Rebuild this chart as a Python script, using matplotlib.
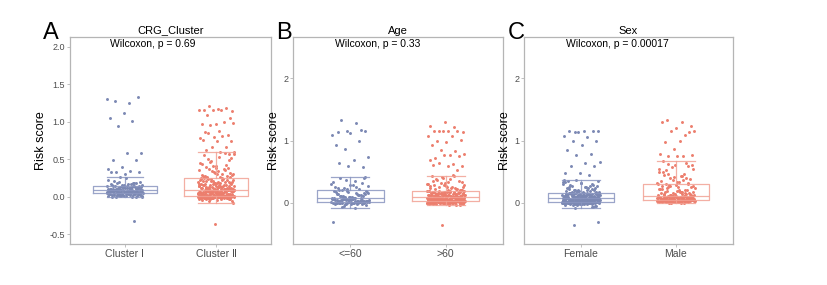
import numpy as np
import matplotlib
matplotlib.use("Agg")
import matplotlib.pyplot as plt

plt.rcParams['font.family'] = ['Liberation Sans', 'DejaVu Sans']

# ---------------- data (risk scores) ----------------
cluster1_risk = [
    1.30, 1.25, 1.28, 1.33, 1.12, 1.05, 1.01, 0.94, 0.58, 0.58, 0.49, 0.49, 0.40, 0.37, 0.35, 0.33, 0.33, 0.31, 0.33, -0.32,
    0.012, -0.004, 0.031, 0.045, 0.008, 0.022, 0.039, -0.009, 0.017, 0.028, 0.041, 0.003, 0.035, 0.014, 0.048, 0.025, -0.002,
    0.033, 0.006, 0.043, 0.019, 0.037, 0.011, 0.046, 0.027, 0.001, 0.032, 0.015, 0.049, 0.021, 0.040, 0.009, 0.024, 0.044, 0.030,
    0.052, 0.071, 0.085, 0.063, 0.058, 0.079, 0.088, 0.066, 0.054, 0.075, 0.082, 0.061, 0.069, 0.057, 0.086, 0.073, 0.051, 0.064,
    0.080, 0.077, 0.059, 0.068, 0.083, 0.055, 0.072, 0.087, 0.062, 0.070, 0.053, 0.081, 0.065, 0.076, 0.060, 0.084, 0.067, 0.074,
    0.092, 0.118, 0.135, 0.104, 0.147, 0.097, 0.126, 0.111, 0.141, 0.099, 0.131, 0.108, 0.122, 0.094, 0.145, 0.115, 0.102, 0.138,
    0.128, 0.096, 0.113, 0.149, 0.106, 0.124, 0.091, 0.133, 0.119, 0.101, 0.143, 0.109, 0.127, 0.095, 0.137, 0.116, 0.103, 0.129,
    0.155, 0.168, 0.182, 0.195, 0.161, 0.174, 0.209, 0.188, 0.152, 0.221, 0.165, 0.178, 0.198, 0.245, 0.158, 0.186, 0.268,
]
cluster2_risk = [
    1.21, 1.14, 1.17, 1.16, 1.18, 1.15, 1.15, 1.15, 1.09, 1.05, 0.97, 0.97, 1.00, 0.96, 0.98, 0.88, 0.87, 0.83, 0.80, 0.79,
    0.81, 0.85, 0.74, 0.74, 0.76, 0.67, 0.67, 0.60, 0.60, 0.63, 0.57, -0.36,
    -0.012, 0.004, -0.031, 0.008, -0.005, 0.002, -0.018, 0.006, -0.024, 0.000, -0.009, 0.009, -0.002, -0.041, 0.005, -0.015, 0.003, -0.007, -0.027, 0.007,
    -0.001, -0.011, 0.001, -0.056, 0.008, -0.004, -0.020, 0.006, -0.013, 0.002, -0.034, 0.004, -0.008, 0.009, -0.003, -0.017, 0.000, -0.079, 0.005, -0.010,
    -0.022, 0.003, -0.006, 0.007, -0.014, 0.001, -0.045, 0.008, -0.002, -0.019, 0.006, -0.009, 0.004, -0.028, 0.002, -0.005, 0.009, -0.012, -0.063, 0.003,
    -0.001, 0.007, -0.016, 0.005, -0.007, 0.000, -0.025, 0.008, -0.003,
    0.012, 0.045, 0.078, 0.023, 0.061, 0.034, 0.089, 0.017, 0.052, 0.068, 0.029, 0.083, 0.041, 0.015, 0.072, 0.056, 0.037, 0.087, 0.020, 0.064,
    0.048, 0.011, 0.075, 0.031, 0.059, 0.085, 0.026, 0.043, 0.069, 0.014, 0.080, 0.038, 0.054, 0.019, 0.073, 0.047, 0.088, 0.024, 0.062, 0.033,
    0.016, 0.070, 0.050, 0.028, 0.082, 0.040, 0.013, 0.066, 0.057, 0.035, 0.077, 0.021, 0.086, 0.046, 0.030, 0.063, 0.018, 0.074, 0.053, 0.039,
    0.084, 0.025, 0.067, 0.044, 0.011, 0.079, 0.032, 0.058, 0.022, 0.071,
    0.095, 0.142, 0.208, 0.118, 0.176, 0.231, 0.103, 0.157, 0.194, 0.126, 0.245, 0.111, 0.168, 0.137, 0.219, 0.099, 0.185, 0.149, 0.121, 0.202,
    0.238, 0.108, 0.163, 0.131, 0.091, 0.189, 0.226, 0.145, 0.115, 0.172, 0.098, 0.213, 0.153, 0.124, 0.197, 0.106, 0.248, 0.139, 0.181, 0.117,
    0.160, 0.093, 0.222, 0.134, 0.171, 0.102, 0.205, 0.147, 0.128, 0.236, 0.112, 0.186, 0.155, 0.097, 0.216, 0.141, 0.178, 0.120, 0.199, 0.109,
    0.166, 0.243, 0.133, 0.092, 0.191, 0.151, 0.229, 0.113, 0.174, 0.136,
    0.262, 0.318, 0.405, 0.287, 0.351, 0.472, 0.298, 0.536, 0.274, 0.389, 0.331, 0.447, 0.256, 0.365, 0.518, 0.309, 0.281, 0.423, 0.342, 0.571,
    0.267, 0.396, 0.489, 0.322, 0.253, 0.375, 0.458, 0.294, 0.338, 0.552, 0.271, 0.412, 0.359, 0.303, 0.498, 0.259, 0.382, 0.436, 0.578,
]
age_le60_risk = [
    1.14, 1.17, 1.16, 1.09, 1.28, 1.33, 1.16, 1.12, 0.93, 0.99, 0.87, 0.73, 0.69, 0.64, 0.57, 0.59, -0.31,
    -0.012, 0.004, -0.035, 0.010, -0.003, 0.013, -0.021, 0.007, -0.088, 0.001, -0.008, 0.012, -0.016, 0.005, -0.047, 0.009,
    -0.002, 0.014, -0.026, 0.003, -0.006, 0.011, -0.062, 0.006, -0.011, 0.002, 0.015, -0.019, 0.008, -0.004, 0.000,
    0.018, 0.042, 0.063, 0.027, 0.055, 0.034, 0.069, 0.021, 0.048, 0.038, 0.060, 0.024, 0.051, 0.030, 0.066, 0.045,
    0.019, 0.057, 0.036, 0.062, 0.026, 0.049, 0.040, 0.068, 0.032, 0.053, 0.022, 0.059, 0.044, 0.029, 0.065, 0.047,
    0.074, 0.112, 0.158, 0.089, 0.187, 0.131, 0.097, 0.176, 0.082, 0.143, 0.119, 0.195, 0.078, 0.165, 0.104, 0.138,
    0.086, 0.182, 0.125, 0.093, 0.151, 0.072, 0.199, 0.109, 0.169, 0.081, 0.135, 0.116, 0.190, 0.099, 0.147, 0.077,
    0.37, 0.30, 0.35, 0.40, 0.40, 0.29, 0.25, 0.215, 0.232, 0.268, 0.281, 0.246, 0.312, 0.225, 0.342, 0.259, 0.205, 0.42,
]
age_gt60_risk = [
    1.29, 1.24, 1.21, 1.16, 1.13, 1.15, 1.15, 1.15, 1.15, 1.07, 1.07, 0.99, 1.01, 0.97, 0.92, 0.83, 0.84, 0.79, 0.77, 0.72,
    0.75, 0.76, 0.69, 0.63, 0.64, 0.59, 0.59, 0.60, 0.52, -0.35,
    -0.008, 0.012, 0.025, -0.015, 0.004, 0.019, 0.028, -0.002, 0.009, -0.031, 0.016, 0.022, 0.001, -0.011, 0.027, 0.007, 0.014, -0.005, 0.020, -0.038,
    0.011, 0.029, 0.003, -0.019, 0.017, 0.024, -0.001, 0.008, 0.013, -0.025, 0.021, 0.005, 0.026, -0.009, 0.015, 0.002, 0.023, -0.013, 0.010, 0.018,
    -0.004, 0.028, 0.006, -0.022, 0.014, 0.024, 0.000, 0.019, -0.007, 0.011, 0.027, 0.003, -0.016, 0.021, 0.009, -0.003, 0.016, 0.025, -0.028, 0.012,
    0.002, 0.022, -0.010, 0.007,
    0.032, 0.058, 0.081, 0.041, 0.069, 0.036, 0.087, 0.051, 0.063, 0.045, 0.075, 0.033, 0.084, 0.055, 0.039, 0.071, 0.048, 0.066, 0.089, 0.043,
    0.061, 0.035, 0.078, 0.053, 0.046, 0.085, 0.038, 0.067, 0.057, 0.031, 0.074, 0.049, 0.082, 0.042, 0.064, 0.037, 0.079, 0.052, 0.070, 0.034,
    0.088, 0.047, 0.060, 0.040, 0.076, 0.054, 0.083, 0.044, 0.068, 0.031, 0.072, 0.056, 0.086, 0.039, 0.065, 0.050, 0.077, 0.036, 0.062, 0.046,
    0.080, 0.041, 0.073, 0.059, 0.034,
    0.093, 0.142, 0.118, 0.176, 0.105, 0.161, 0.131, 0.187, 0.097, 0.152, 0.124, 0.110, 0.169, 0.138, 0.091, 0.183, 0.115, 0.147, 0.102, 0.172,
    0.128, 0.157, 0.095, 0.136, 0.179, 0.108, 0.164, 0.121, 0.189, 0.099, 0.145, 0.113, 0.171, 0.133, 0.092, 0.155, 0.126, 0.185, 0.104, 0.167,
    0.140, 0.117, 0.174, 0.096, 0.150, 0.130, 0.181, 0.107, 0.159, 0.122, 0.094, 0.144, 0.178, 0.111, 0.163, 0.135, 0.101, 0.188, 0.119, 0.153,
    0.098, 0.173, 0.127, 0.149, 0.114,
    0.205, 0.262, 0.348, 0.228, 0.415, 0.297, 0.241, 0.376, 0.213, 0.321, 0.274, 0.432, 0.196, 0.255, 0.339, 0.287, 0.221, 0.398, 0.308, 0.247,
    0.362, 0.201, 0.268, 0.425, 0.233, 0.315, 0.279, 0.386, 0.218, 0.354, 0.292, 0.237, 0.441, 0.252, 0.331, 0.209,
]
female_risk = [
    1.14, 1.15, 1.16, 1.16, 1.16, 1.13, 1.07, 1.06, 1.00, 0.99, 0.93, 0.85, 0.78, 0.76, 0.65, 0.64, 0.59, 0.59, 0.48, 0.48, 0.44,
    -0.35, -0.31,
    -0.006, 0.008, -0.021, 0.012, 0.002, -0.013, 0.010, -0.044, 0.005, -0.002, 0.014, -0.017, 0.007, -0.009, 0.001, -0.072, 0.011, -0.004, 0.013, -0.028,
    0.006, -0.011, 0.003, 0.009, -0.035, 0.000, 0.015, -0.007, 0.004, -0.019, 0.012, -0.001, -0.088, 0.008, -0.014, 0.010, 0.002, -0.025, 0.006, -0.005,
    0.013, -0.052, 0.001, 0.009, -0.010, 0.004, -0.003, 0.011, -0.016, 0.007, 0.014, -0.031, 0.003, -0.008, 0.010, -0.002, 0.005, -0.061,
    0.018, 0.045, 0.072, 0.029, 0.061, 0.036, 0.079, 0.024, 0.053, 0.041, 0.067, 0.020, 0.057, 0.033, 0.075, 0.048, 0.016, 0.064, 0.038, 0.070,
    0.027, 0.050, 0.043, 0.077, 0.022, 0.059, 0.035, 0.068, 0.046, 0.019, 0.073, 0.031, 0.055, 0.040, 0.066, 0.025, 0.062, 0.051, 0.078, 0.034,
    0.017, 0.058, 0.044, 0.071, 0.028, 0.063, 0.037, 0.076, 0.052, 0.023, 0.069, 0.039, 0.056, 0.030, 0.074, 0.047, 0.021, 0.065, 0.042, 0.060,
    0.082, 0.121, 0.147, 0.098, 0.135, 0.109, 0.158, 0.089, 0.127, 0.114, 0.152, 0.093, 0.140, 0.103, 0.131, 0.085, 0.155, 0.118, 0.096, 0.143,
    0.111, 0.137, 0.087, 0.124, 0.150, 0.101, 0.133, 0.091, 0.146, 0.116, 0.081, 0.129, 0.106, 0.153, 0.095, 0.139, 0.120, 0.088, 0.144, 0.112,
    0.159, 0.099, 0.126, 0.084, 0.141, 0.107, 0.134, 0.092, 0.149, 0.117, 0.086, 0.130, 0.104, 0.156, 0.097, 0.123, 0.138, 0.090, 0.145, 0.110,
    0.172, 0.225, 0.298, 0.189, 0.341, 0.206, 0.264, 0.178, 0.312, 0.236, 0.195, 0.365, 0.168, 0.251, 0.287, 0.214, 0.183, 0.329, 0.242, 0.199,
    0.276, 0.165, 0.356, 0.221, 0.192, 0.307, 0.258, 0.175, 0.231, 0.318, 0.186, 0.269, 0.209, 0.347, 0.163, 0.247, 0.293, 0.201, 0.370,
]
male_risk = [
    1.30, 1.33, 1.23, 1.20, 1.29, 1.09, 1.16, 1.15, 0.99, 0.98, 1.14, 0.86, 0.79, 0.75, 0.75, 0.76, 0.75, 0.67, 0.64,
    0.012, 0.034, 0.005, 0.027, 0.046, 0.018, 0.039, 0.002, 0.023, 0.043, 0.009, 0.031, 0.015, 0.048, 0.021, 0.036, 0.007, 0.041, 0.026, 0.013,
    0.049, 0.004, 0.029, 0.038, 0.016, 0.044, 0.010, 0.033, 0.022, 0.001, 0.040, 0.019, 0.047, 0.028, 0.006, 0.035, 0.014, 0.042, 0.024, 0.008,
    0.037, 0.017, 0.045, 0.030, 0.011,
    0.053, 0.082, 0.067, 0.097, 0.059, 0.108, 0.074, 0.088, 0.062, 0.101, 0.056, 0.079, 0.093, 0.070, 0.105, 0.051, 0.085, 0.064, 0.099, 0.076,
    0.058, 0.091, 0.069, 0.103, 0.081, 0.054, 0.095, 0.072, 0.087, 0.061, 0.107, 0.077, 0.066, 0.094, 0.057, 0.084, 0.100, 0.073, 0.090, 0.063,
    0.109, 0.078, 0.052, 0.096, 0.071,
    0.118, 0.176, 0.243, 0.135, 0.289, 0.152, 0.211, 0.127, 0.265, 0.189, 0.143, 0.301, 0.114, 0.228, 0.167, 0.256, 0.131, 0.198, 0.274, 0.149,
    0.121, 0.235, 0.182, 0.306, 0.158, 0.139, 0.219, 0.112, 0.281, 0.171, 0.247, 0.125, 0.204, 0.162, 0.295, 0.146, 0.192, 0.261, 0.116, 0.224,
    0.154, 0.278, 0.133, 0.207, 0.169,
    0.325, 0.412, 0.538, 0.367, 0.455, 0.601, 0.341, 0.489, 0.392, 0.572, 0.318, 0.436, 0.524, 0.379, 0.611, 0.353, 0.467, 0.405, 0.548, 0.331,
    0.445, 0.586, 0.362, 0.501, 0.424, 0.619,
]

panel_letters = ["A", "B", "C"]
panel_titles = ["CRG_Cluster", "Age", "Sex"]
group_labels = [["Cluster \u2160", "Cluster \u2161"], ["<=60", ">60"], ["Female", "Male"]]
p_labels = ["Wilcoxon, p = 0.69", "Wilcoxon, p = 0.33", "Wilcoxon, p = 0.00017"]
panel_data = [[cluster1_risk, cluster2_risk], [age_le60_risk, age_gt60_risk], [female_risk, male_risk]]
yticks_list = [[-0.5, 0.0, 0.5, 1.0, 1.5, 2.0], [0, 1, 2], [0, 1, 2]]
ytick_labels = [["-0.5", "0.0", "0.5", "1.0", "1.5", "2.0"], ["0", "1", "2"], ["0", "1", "2"]]
ylims = [(-0.63, 2.13), (-0.66, 2.66), (-0.66, 2.66)]

# ---------------- style ----------------
W, H = 828, 285
point_colors = ["#7B88B3", "#EC7E6D"]
box_colors = ["#8A96C0", "#F2A194"]
frame_color = "#B5B5B5"
tick_text = "#4D4D4D"
axes_px = [(70, 271), (293, 503), (524, 733)]
top_px, bot_px = 37, 244
letter_x = [51, 284, 516]

fig = plt.figure(figsize=(W / 100, H / 100), dpi=100)

for k in range(3):
    x0, x1 = axes_px[k]
    ax = fig.add_axes([x0 / W, 1 - bot_px / H, (x1 - x0) / W, (bot_px - top_px) / H])
    groups = panel_data[k]
    for g, vals in enumerate(groups):
        vals = np.asarray(vals, dtype=float)
        n = len(vals)
        # deterministic quasi-uniform jitter (golden-ratio sequence), width 0.2
        frac = (np.arange(n) * 0.6180339887 + 0.31 * g + 0.17 * k) % 1.0
        xs = (g + 1) + (frac - 0.5) * 0.4
        ax.scatter(xs, vals, s=4.5, color=point_colors[g], linewidths=0, zorder=2)
        bp = ax.boxplot([vals], positions=[g + 1], widths=0.7, whis=1.5, showfliers=False,
                        patch_artist=False, capwidths=[0.4], manage_ticks=False)
        for key in ("boxes", "medians", "whiskers", "caps"):
            for ln in bp[key]:
                ln.set_color(box_colors[g])
                ln.set_linewidth(0.9)
                ln.set_alpha(0.85)
                ln.set_zorder(3)
    ax.set_xlim(0.4, 2.6)
    ax.set_ylim(*ylims[k])
    ax.set_xticks([1, 2])
    ax.set_xticklabels(group_labels[k], fontsize=7.5, color=tick_text,
                       family=['Liberation Sans', 'DejaVu Sans'])
    ax.set_yticks(yticks_list[k])
    ax.set_yticklabels(ytick_labels[k], fontsize=6.5, color=tick_text)
    ax.tick_params(axis='both', length=2, width=0.6, color=frame_color, pad=1.5)
    for sp in ax.spines.values():
        sp.set_color(frame_color)
        sp.set_linewidth(0.9)
    ax.set_ylabel("Risk score", fontsize=9, color="black", labelpad=2)
    ax.set_title(panel_titles[k], fontsize=8, color="black", pad=2.5)
    ax.text(0.2, 0.966, p_labels[k], transform=ax.transAxes, ha='left', va='center',
            fontsize=7.5, color="black")
    fig.text(letter_x[k] / W, 1 - 33 / H, panel_letters[k], ha='center', va='center',
             fontsize=17, color="black")

fig.savefig("out.png", dpi=100, facecolor="white")
